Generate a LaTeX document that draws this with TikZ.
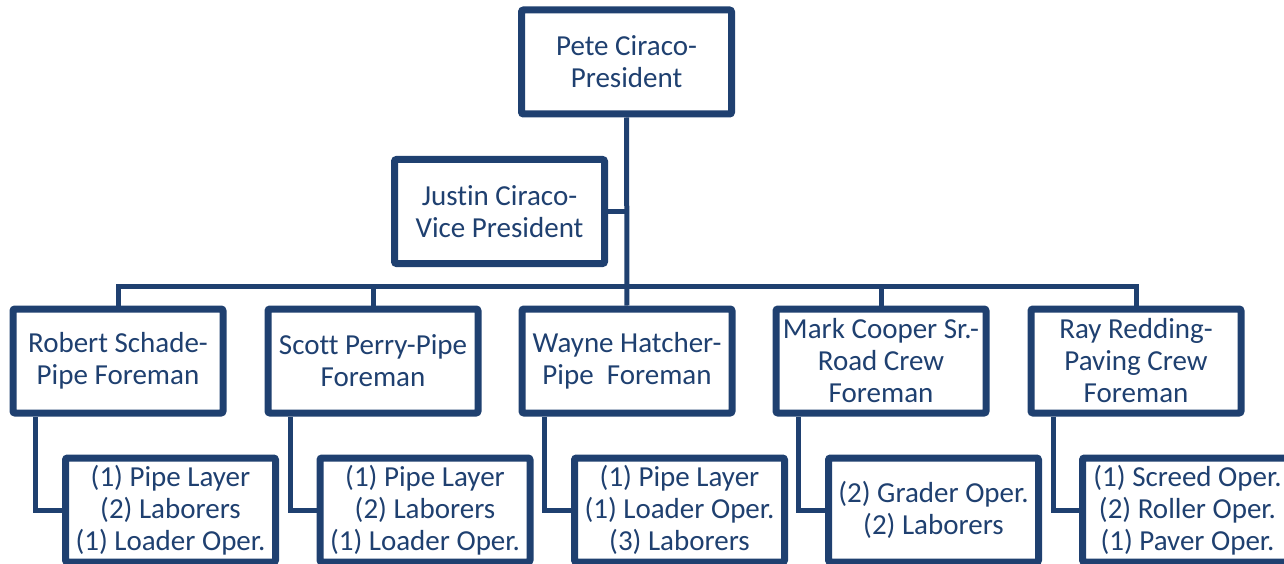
\documentclass[tikz,border=0pt]{standalone}
\usepackage{fontspec}
\setmainfont{Carlito}[Ligatures=NoCommon]
\usepackage{tikz}
\usetikzlibrary{shadows,backgrounds}
\definecolor{navy}{RGB}{31,64,112}
\tikzset{
 post/.style={draw=navy, line width=7pt, fill=white, rounded corners=2pt,
   minimum width=210pt, minimum height=104pt, inner sep=1pt, align=center,
   text=navy, font=\fontsize{29}{32}\selectfont,
   drop shadow={opacity=0.25, shadow xshift=1.5pt, shadow yshift=-2pt}},
 link/.style={draw=navy, line width=5pt}
}

\begin{document}
\begin{tikzpicture}[x=1pt,y=-1pt]
\useasboundingbox (0,0) rectangle (1284,564);
\clip (0,0) rectangle (1284,564);
\coordinate (bus) at (627,286);
\node[post] (pres) at (626.5,62) {Pete Ciraco-\\President};
\node[post] (vp) at (499.5,211.5) {Justin Ciraco-\\Vice President};
\node[post] (robert) at (118,361) {Robert Schade-\\Pipe Foreman};
\node[post] (scott) at (373,361) {Scott Perry-Pipe\\Foreman};
\node[post] (wayne) at (627,361) {Wayne Hatcher-\\Pipe\ \ Foreman};
\node[post] (mark) at (881,361) {Mark Cooper Sr.-\\Road Crew\\Foreman};
\node[post] (ray) at (1136,361) {Ray Redding-\\Paving Crew\\Foreman};
\node[post] (crew-robert) at (170.5,510) {(1) Pipe Layer\\(2) Laborers\\(1) Loader Oper.};
\node[post] (crew-scott) at (425,510) {(1) Pipe Layer\\(2) Laborers\\(1) Loader Oper.};
\node[post] (crew-wayne) at (679.5,510) {(1) Pipe Layer\\(1) Loader Oper.\\(3) Laborers};
\node[post] (crew-mark) at (933.5,510) {(2) Grader Oper.\\(2) Laborers};
\node[post] (crew-ray) at (1187.5,510) {(1) Screed Oper.\\(2) Roller Oper.\\(1) Paver Oper.};
% connectors behind the boxes
\begin{scope}[on background layer]
\draw[link] (pres) -- (wayne);
\draw[link] (vp.east) -- (vp.east -| pres);
\draw[link] (robert.north) |- (bus) -| (ray.north);
\foreach \b in {scott,mark}
 \draw[link] (\b.north) -- (\b.north |- bus);
\foreach \b in {robert,scott,wayne,mark,ray}
 \draw[link] ([xshift=-83pt]\b.south) |- (crew-\b.west);
\end{scope}
\end{tikzpicture}
\end{document}
